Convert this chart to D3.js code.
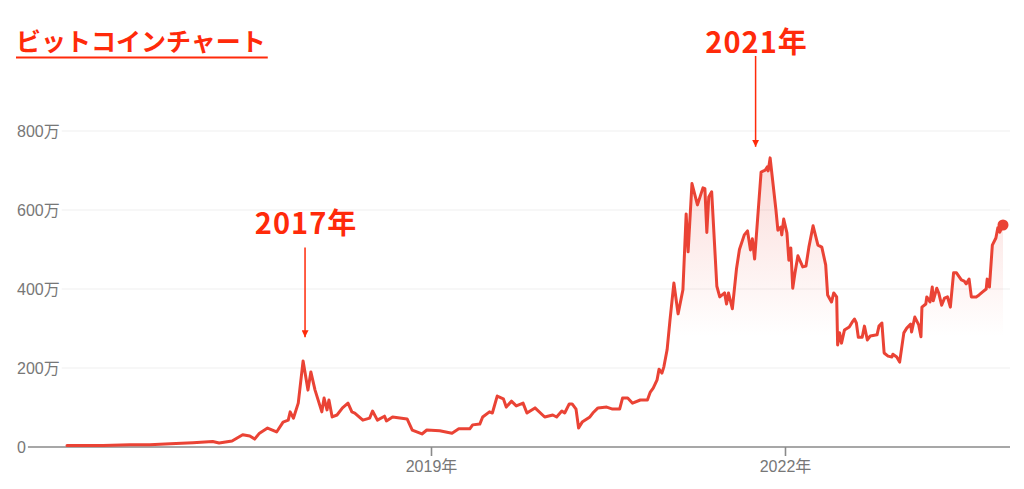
<!DOCTYPE html>
<html>
<head>
<meta charset="utf-8">
<script src="https://cdn.jsdelivr.net/npm/d3@7"></script>
<style>
  html, body { margin: 0; padding: 0; background: #fff; }
  svg { display: block; }
</style>
</head>
<body>
<div class="chart"></div>
<script>
// data (prices in 万円)
var dates = [
  "2015-12-01","2016-03-22","2016-06-13","2016-08-13","2016-10-16","2016-12-25",
  "2017-02-24","2017-03-16","2017-04-25","2017-05-28","2017-06-19","2017-07-04","2017-07-19","2017-08-13","2017-09-10","2017-09-30","2017-10-16","2017-10-22","2017-11-01","2017-11-16","2017-12-01","2017-12-16","2017-12-25",
  "2018-01-07","2018-01-28","2018-02-04","2018-02-13","2018-02-19","2018-03-01","2018-03-16","2018-04-02","2018-04-19","2018-05-01","2018-05-10","2018-06-04","2018-06-25","2018-07-04","2018-07-19","2018-08-10","2018-08-16","2018-09-04","2018-10-19","2018-11-04","2018-12-04","2018-12-19",
  "2019-01-28","2019-03-07","2019-03-28","2019-05-01","2019-05-10","2019-06-01","2019-06-10","2019-07-01","2019-07-10","2019-07-25","2019-08-13","2019-08-22","2019-09-07","2019-09-22","2019-10-13","2019-10-25","2019-11-19","2019-12-19",
  "2020-01-13","2020-01-25","2020-02-10","2020-02-19","2020-03-04","2020-03-13","2020-03-25","2020-04-02","2020-04-13","2020-05-07","2020-05-16","2020-06-01","2020-06-28","2020-07-16","2020-08-07","2020-08-16","2020-09-01","2020-09-16","2020-10-10","2020-11-01","2020-11-10","2020-11-19","2020-12-01","2020-12-07","2020-12-16","2020-12-22",
  "2021-01-01","2021-01-10","2021-01-22","2021-02-04","2021-02-19","2021-03-01","2021-03-07","2021-03-19","2021-04-05","2021-04-22","2021-04-28","2021-05-04","2021-05-10","2021-05-19","2021-06-04","2021-06-13","2021-06-28","2021-07-04","2021-07-10","2021-07-22","2021-08-04","2021-08-13","2021-08-28","2021-09-07","2021-09-16","2021-09-22","2021-09-29","2021-10-19","2021-11-01","2021-11-07","2021-11-10","2021-11-16","2021-12-04","2021-12-10","2021-12-19","2021-12-22","2021-12-28",
  "2022-01-07","2022-01-13","2022-01-19","2022-01-25","2022-02-01","2022-02-10","2022-02-25","2022-03-07","2022-03-16","2022-03-29","2022-04-13","2022-04-25","2022-05-07","2022-05-13","2022-05-25","2022-06-01","2022-06-10","2022-06-13","2022-06-19","2022-06-25","2022-07-04","2022-07-19","2022-07-28","2022-08-04","2022-08-10","2022-08-16","2022-08-28","2022-09-04","2022-09-13","2022-09-22","2022-10-13","2022-10-19","2022-10-28","2022-11-04","2022-11-16","2022-11-28","2022-12-01","2022-12-13","2022-12-22",
  "2023-01-04","2023-01-13","2023-01-25","2023-01-28","2023-02-07","2023-02-19","2023-02-26","2023-03-01","2023-03-13","2023-03-16","2023-03-26","2023-04-02","2023-04-05","2023-04-16","2023-04-22","2023-05-01","2023-05-10","2023-05-19","2023-05-28","2023-06-07","2023-06-16","2023-07-01","2023-07-10","2023-07-16","2023-07-25","2023-08-01","2023-08-16","2023-08-25","2023-09-04","2023-09-16","2023-09-19","2023-09-26","2023-10-05","2023-10-16","2023-10-22","2023-10-28","2023-11-07"
];
var prices = [
  4,4,6,6,8,11,
  14,10,15,31,28,20,35,48,38,63,68,89,73,111,218,144,190,
  144,89,124,94,119,76,81,99,111,89,86,68,73,91,68,78,66,76,71,43,33,43,
  41,35,46,46,56,58,76,89,86,129,122,101,116,104,111,86,99,76,
  81,76,91,86,109,109,96,48,63,76,86,99,101,96,96,124,124,111,119,119,139,149,170,197,187,203,
  246,322,415,337,398,590,494,667,613,656,654,543,633,646,407,380,390,362,390,350,452,500,537,547,499,527,476,696,701,709,699,732,600,549,557,537,577,
  542,473,504,402,441,484,456,458,506,560,511,506,461,385,367,390,380,258,289,263,296,304,316,324,314,278,278,306,271,281,284,306,314,238,230,228,235,228,215,
  289,301,311,291,329,309,279,354,362,380,367,405,370,402,390,359,377,380,354,441,441,423,420,413,425,380,380,385,392,400,425,405,511,529,555,544,562
];
var yTicks = [0, 200, 400, 600, 800];
var xTickDates = ["2019-01-01", "2022-01-01"];
var annoLabels = ["2017年", "2021年"];
var annoDates = ["2017-12-07", "2021-10-02"];
var annoTextAt = [540, 997];     // value level of the label baseline
var annoArrowFrom = [505, 990];
var annoArrowTo = [278, 760];
var title = "ビットコインチャート";

var W = 1024, H = 489;
var red = "#ea4335", hot = "#ff2a0a";
var font = "'Liberation Sans', Arial, 'Noto Sans CJK JP', sans-serif";
var jpFont = "'Noto Sans CJK JP', sans-serif";
var parse = d3.timeParse("%Y-%m-%d");

var data = dates.map(function(d, i) { return { date: parse(d), v: prices[i] }; });

var svg = d3.select('.chart').append('svg').attr('width', W).attr('height', H);

var x = d3.scaleTime()
  .domain([parse("2015-12-01"), parse("2023-11-07")])
  .range([67, 1003]);
var y = d3.scaleLinear().domain([0, 800]).range([447, 131]);

var defs = svg.append('defs');
var grad = defs.append('linearGradient').attr('id', 'fillGrad')
  .attr('gradientUnits', 'userSpaceOnUse')
  .attr('x1', 0).attr('x2', 0).attr('y1', y(800)).attr('y2', y(280));
grad.append('stop').attr('offset', 0).attr('stop-color', red).attr('stop-opacity', 0.22);
grad.append('stop').attr('offset', 1).attr('stop-color', red).attr('stop-opacity', 0);

// title
var t = svg.append('text').attr('x', 16).attr('y', 51)
  .attr('font-family', jpFont).attr('font-weight', 700).attr('font-size', 25)
  .attr('fill', hot).text(title);
var tw = t.node().getComputedTextLength();
svg.append('line').attr('x1', 16).attr('x2', 16 + tw + 2).attr('y1', 57.5).attr('y2', 57.5)
  .attr('stroke', hot).attr('stroke-width', 2);

// y grid + labels (each line starts right after its label)
var grid = svg.append('g');
yTicks.forEach(function(v) {
  var lbl = grid.append('text').attr('x', 17).attr('y', y(v)).attr('dy', '0.36em')
    .attr('font-family', font).attr('font-size', 16).attr('fill', '#777')
    .text(v === 0 ? '0' : v + '万');
  var lw = lbl.node().getComputedTextLength();
  grid.append('line').attr('x1', 17 + lw + 2).attr('x2', 1010)
    .attr('y1', y(v)).attr('y2', y(v))
    .attr('stroke', v === 0 ? '#8a8a8a' : '#f0f0f0')
    .attr('stroke-width', v === 0 ? 1.6 : 1.2);
});

// x axis ticks
var xAxis = d3.axisBottom(x)
  .tickValues(xTickDates.map(parse))
  .tickFormat(function(d) { return d.getFullYear() + '年'; })
  .tickSize(9).tickPadding(5);
var gx = svg.append('g').attr('transform', 'translate(0,' + y(0) + ')').call(xAxis);
gx.select('.domain').remove();
gx.selectAll('line').attr('stroke', '#8a8a8a').attr('stroke-width', 1.6);
gx.selectAll('text').attr('font-family', font).attr('font-size', 16).attr('fill', '#777');

// area + line
var area = d3.area().x(function(d) { return x(d.date); })
  .y0(y(0)).y1(function(d) { return y(d.v); });
svg.append('path').datum(data).attr('d', area).attr('fill', 'url(#fillGrad)');

var line = d3.line().x(function(d) { return x(d.date); }).y(function(d) { return y(d.v); });
svg.append('path').datum(data).attr('d', line)
  .attr('fill', 'none').attr('stroke', red).attr('stroke-width', 3)
  .attr('stroke-linejoin', 'round').attr('stroke-linecap', 'round');

var last = data[data.length - 1];
svg.append('circle').attr('cx', x(last.date)).attr('cy', y(last.v)).attr('r', 5.5).attr('fill', red);

// annotations
defs.append('marker').attr('id', 'arrow').attr('viewBox', '0 0 10 10')
  .attr('refX', 10).attr('refY', 5).attr('markerWidth', 7).attr('markerHeight', 7)
  .attr('markerUnits', 'userSpaceOnUse').attr('orient', 'auto')
  .append('path').attr('d', 'M0,0L10,5L0,10z').attr('fill', hot);

annoLabels.forEach(function(label, i) {
  var ax = x(parse(annoDates[i]));
  svg.append('text').attr('x', ax + 1).attr('y', y(annoTextAt[i]))
    .attr('text-anchor', 'middle').attr('font-family', jpFont).attr('font-weight', 700)
    .attr('font-size', 29).attr('letter-spacing', 1).attr('fill', hot).text(label);
  svg.append('line').attr('x1', ax).attr('x2', ax)
    .attr('y1', y(annoArrowFrom[i])).attr('y2', y(annoArrowTo[i]))
    .attr('stroke', hot).attr('stroke-width', 1.5).attr('marker-end', 'url(#arrow)');
});
</script>
</body>
</html>
